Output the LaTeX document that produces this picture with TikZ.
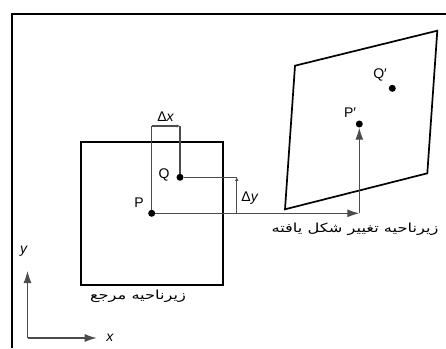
\documentclass[tikz,border=0pt]{standalone}
\usepackage{fontspec}
\setmainfont{Liberation Sans}
\newfontfamily\arabicfont[Script=Arabic]{DejaVu Sans}
\TeXXeTstate=1
\usetikzlibrary{arrows.meta}

\begin{document}
\begin{tikzpicture}[x=1pt,y=-1pt,every node/.style={font=\fontsize{14}{16}\selectfont},
    region/.style={line width=1.7pt},
    link/.style={line width=1.1pt,black!70},
    dot/.style={circle,fill,inner sep=0pt,minimum size=7pt}]
    \useasboundingbox (0,0) rectangle (446,348);
    \draw[line width=2pt] (12,348) -- (12,14) -- (446,14);
    % reference and deformed regions
    \draw[region] (80.7,141.7) rectangle (222.7,285);
    \draw[region] (295,65.7) -- (437.3,30.7) -- (427.3,173.3) -- (285,209.3) -- cycle;
    \node[dot] (P) at (151.7,213.3) {};
    \node[dot] (Q) at (180,177.3) {};
    \node[dot] (Pd) at (359.3,124) {};
    \node[dot] (Qd) at (392.3,88.3) {};
    \node at (139,203) {P};
    \node at (164,175) {Q};
    \node at (350,113) {P′};
    \node at (380,75) {Q′};
    % offsets
    \coordinate (dxP) at (151.7,126);
    \coordinate (dxQ) at (180,126);
    \coordinate (dyQ) at (236.7,177.3);
    \coordinate (dyP) at (236.7,213.3);
    \draw[link] (P) -- (dxP);
    \draw[link,-{Latex[length=3.5pt,width=3.5pt]}] (dxP) -- (dxQ);
    \draw[link] (Q) -- (dxQ);
    \draw[link] (Q) -- (dyQ);
    \draw[link,-{Latex[length=3.5pt,width=3.5pt]}] (dyP) -- (dyQ);
    \node at (165.7,116.7) {Δ\textit{x}};
    \node at (250,198) {Δ\textit{y}};
    % mapping P -> P'
    \coordinate (turn) at (359.3,213.3);
    \draw[link,-{Latex[length=12pt,width=8pt]}] (P) -- (turn);
    \draw[link,-{Latex[length=12pt,width=8pt]}] (turn) -- (Pd);
    \node at (355,229.3) {\scalebox{1.3}[1]{\arabicfont\fontsize{12.5}{14}\selectfont\beginR زیرناحیه تغییر شکل یافته\endR}};
    \node at (138,296.7) {\scalebox{1.3}[1]{\arabicfont\fontsize{12.5}{14}\selectfont\beginR زیرناحیه مرجع\endR}};
    % axes
    \coordinate (O) at (27.5,338);
    \coordinate (ytip) at (27.5,271);
    \coordinate (xtip) at (96.7,338);
    \draw[link,-{Latex[length=12pt,width=8pt]}] (O) -- (ytip);
    \draw[link,-{Latex[length=12pt,width=8pt]}] (O) -- (xtip);
    \node at (24,251) {\textit{y}};
    \node at (110,338) {\textit{x}};
\end{tikzpicture}
\end{document}
